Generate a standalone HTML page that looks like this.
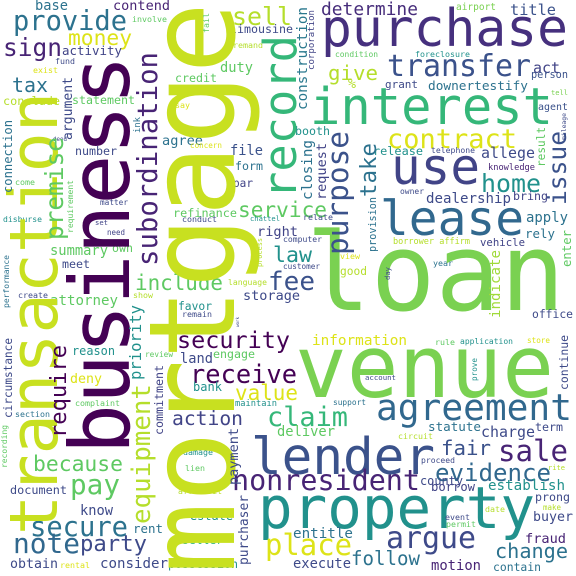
<!DOCTYPE html>
<html><head><meta charset="utf-8"><style>
html,body{margin:0;padding:0;background:#fff;}
svg{display:block;}
text{font-family:"DejaVu Sans Mono","Liberation Mono",monospace;}
</style></head><body>
<svg id="cloud" width="576" height="576" viewBox="0 0 576 576" xmlns="http://www.w3.org/2000/svg">
<rect width="576" height="576" fill="#ffffff"/>
</svg>
<script>
// horizontal words: [text, x, baseline, width, color]
const hWords = [
["purchase",321,46,247,"#46307e"],["determine",321,15,97,"#472d7b"],["title",510,15,46,"#3b528b"],
["airport",456,10,40,"#7ad151"],["transfer",387,76,144,"#3b528b"],["act",533,73,27,"#414487"],
["give",328,80,50,"#b5de2b"],["condition",335,57,43,"#5ec962"],["foreclosure",415,57,55,"#21918c"],
["person",531,78,37,"#3b528b"],["grant",385,88,33,"#3e4a89"],["downertestify",428,90,100,"#2c728e"],
["%",348,88,8,"#b5de2b"],["interest",310,124,243,"#35b779"],["tell",551,95,17,"#7ad151"],
["agent",538,110,30,"#3b528b"],["booth",295,135,35,"#21918c"],["contract",387,148,130,"#dde318"],
["release",373,155,50,"#21918c"],["telephone",431,153,44,"#3e4a89"],["use",391,184,89,"#414487"],
["allege",481,158,54,"#3e4a89"],["knowledge",488,170,47,"#482475"],["home",481,192,60,"#21918c"],
["owner",400,194,24,"#3e4a89"],["dealership",426,203,85,"#3e4a89"],["bring",513,200,35,"#414487"],
["lease",380,235,144,"#31688e"],["apply",526,222,42,"#2c728e"],["rely",525,238,30,"#2c728e"],
["computer",283,242,39,"#3e4a89"],["borrower affirm",393,244,77,"#b5de2b"],["vehicle",480,246,45,"#414487"],
["view",340,259,20,"#dde318"],["year",433,266,20,"#2c728e"],["good",340,275,27,"#b5de2b"],
["customer",283,269,37,"#3e4a89"],["loan",306,310,259,"#7ad151"],["base",35,10,33,"#2c728e"],
["contend",113,10,57,"#482475"],["provide",13,30,114,"#2c728e"],["involve",132,22,35,"#5ec962"],
["money",68,45,64,"#dde318"],["sign",3,56,59,"#482475"],["activity",62,55,60,"#414487"],
["remand",233,48,30,"#b5de2b"],["fund",55,64,20,"#3e4a89"],["exist",33,73,25,"#dde318"],
["duty",220,72,33,"#5ec962"],["tax",12,92,36,"#2c728e"],["credit",175,82,42,"#5ec962"],
["conclude",3,105,57,"#b5de2b"],["statement",72,104,63,"#5ec962"],["say",175,108,15,"#dde318"],
["deed",53,141,14,"#3e4a89"],["agree",162,145,41,"#2c728e"],["concern",190,148,32,"#dde318"],
["file",230,155,33,"#3b528b"],["number",75,155,42,"#3e4a89"],["form",235,170,28,"#2c728e"],
["come",15,185,20,"#5ec962"],["par",233,187,20,"#414487"],["service",238,217,89,"#5ec962"],
["refinance",173,217,64,"#5ec962"],["matter",100,205,28,"#3e4a89"],["disburse",3,222,39,"#21918c"],
["chattel",250,221,30,"#21918c"],["conduct",182,222,35,"#3e4a89"],["set",95,225,13,"#414487"],
["need",107,235,18,"#414487"],["relate",303,220,30,"#3e4a89"],["sell",232,25,60,"#b5de2b"],
["limousine",230,33,63,"#3e4a89"],["right",257,236,41,"#414487"],["summary",50,255,58,"#5ec962"],
["own",112,252,21,"#5ec962"],["law",273,262,39,"#21918c"],["meet",62,268,28,"#3e4a89"],
["include",135,290,88,"#5ec962"],["language",228,285,39,"#b5de2b"],["fee",268,290,47,"#3b528b"],
["storage",243,300,57,"#3e4a89"],["create",18,298,30,"#3e4a89"],["show",133,298,20,"#b5de2b"],
["attorney",50,305,68,"#5ec962"],["favor",178,310,34,"#21918c"],["remain",182,317,30,"#3e4a89"],
["office",532,318,41,"#3e4a89"],["information",312,345,95,"#dde318"],["security",177,348,113,"#440154"],
["land",180,363,33,"#3e4a89"],["engage",213,358,42,"#5ec962"],["review",145,357,28,"#5ec962"],
["rule",435,345,20,"#5ec962"],["application",460,344,53,"#21918c"],["store",527,343,23,"#dde318"],
["venue",295,397,259,"#7ad151"],["account",365,380,31,"#3e4a89"],["receive",190,383,107,"#440154"],
["reason",72,355,43,"#21918c"],["deny",70,383,32,"#dde318"],["bank",193,391,29,"#21918c"],
["value",235,400,63,"#dde318"],["complaint",75,406,45,"#5ec962"],["maintain",235,406,42,"#21918c"],
["section",15,417,35,"#2c728e"],["support",333,405,33,"#2c728e"],["action",172,425,71,"#414487"],
["claim",267,426,81,"#35b779"],["agreement",376,420,196,"#31688e"],["deliver",277,436,58,"#5ec962"],
["circuit",398,439,35,"#b5de2b"],["statute",428,431,53,"#2c728e"],["charge",481,437,54,"#3e4a89"],
["term",535,431,28,"#3e4a89"],["lender",251,474,184,"#3b528b"],["fair",441,455,50,"#3b528b"],
["sale",498,461,70,"#482475"],["proceed",421,463,34,"#3e4a89"],["because",33,471,90,"#5ec962"],
["damage",183,455,30,"#21918c"],["lien",185,471,20,"#5ec962"],["evidence",435,481,116,"#31688e"],
["rite",548,470,17,"#b5de2b"],["pay",70,494,50,"#5ec962"],["nonresident",232,490,188,"#482475"],
["county",420,485,43,"#3e4a89"],["establish",488,490,77,"#21918c"],["borrow",431,491,44,"#414487"],
["document",10,494,57,"#3e4a89"],["affidavit",178,494,44,"#b5de2b"],["prong",535,501,35,"#3e4a89"],
["property",258,528,277,"#21918c"],["know",80,515,33,"#3e4a89"],["date",485,512,20,"#b5de2b"],
["make",543,510,18,"#b5de2b"],["buyer",533,521,40,"#3e4a89"],["event",445,520,25,"#3e4a89"],
["permit",446,527,30,"#5ec962"],["estate",190,520,43,"#21918c"],["secure",30,536,98,"#2c728e"],
["rent",133,533,30,"#2c728e"],["entitle",293,538,60,"#2c728e"],["fraud",525,543,41,"#482475"],
["seller",182,544,41,"#35b779"],["place",265,555,87,"#dde318"],["argue",386,548,90,"#3e4a89"],
["change",495,558,73,"#2c728e"],["note",13,553,67,"#31688e"],["party",80,551,67,"#3e4a89"],
["follow",351,565,69,"#2c728e"],["execute",293,568,58,"#3e4a89"],["motion",431,570,50,"#482475"],
["contain",493,571,48,"#2c728e"],["obtain",10,568,48,"#3e4a89"],["rental",60,568,30,"#dde318"],
["consider",100,568,68,"#3e4a89"],["possession",168,568,70,"#21918c"]
];
// vertical words (read bottom to top): [text, baselineX, yTop, yBottom, color]
const vWords = [
["mortgage",234,2,574,"#c8e020"],["transaction",57,92,535,"#c8e020"],["business",129,55,454,"#440154"],
["record",296,35,199,"#35b779"],["subordination",157,52,266,"#482475"],["construction",307,7,110,"#2a788e"],
["corporation",314,10,70,"#414487"],["fail",209,13,33,"#5ec962"],["argument",72,77,140,"#3e4a89"],
["ink",140,117,133,"#2c728e"],["premise",63,137,240,"#5ec962"],["connection",12,120,193,"#2c728e"],
["requirement",73,180,233,"#5ec962"],["performance",9,255,308,"#2c728e"],["process",262,238,267,"#b5de2b"],
["purpose",348,131,255,"#3b528b"],["take",376,143,197,"#2c728e"],["closing",312,140,200,"#2c728e"],
["request",326,143,200,"#414487"],["result",545,127,167,"#5ec962"],["issue",566,131,205,"#3b528b"],
["mileage",566,113,140,"#3e4a89"],["provision",376,197,252,"#2c728e"],["enter",571,230,267,"#5ec962"],
["indicate",500,250,318,"#a0da39"],["day",390,267,280,"#3e4a89"],["work",239,317,327,"#3e4a89"],
["continue",568,335,390,"#3e4a89"],["prove",477,358,381,"#21918c"],["priority",141,305,380,"#21918c"],
["equipment",150,384,524,"#b5de2b"],["require",66,345,438,"#440154"],["commitment",163,365,435,"#414487"],
["circumstance",12,338,418,"#3e4a89"],["recording",7,425,468,"#5ec962"],["payment",238,428,485,"#3e4a89"],
["purchaser",248,495,565,"#3e4a89"]
];
const svg = document.getElementById('cloud');
const NS = 'http://www.w3.org/2000/svg';
hWords.forEach(w => {
  const t = document.createElementNS(NS, 'text');
  const fs = w[3] / (w[0].length * 0.6);
  t.setAttribute('x', w[1]);
  t.setAttribute('y', w[2]);
  t.setAttribute('font-size', fs.toFixed(2));
  t.setAttribute('fill', w[4]);
  t.setAttribute('textLength', w[3]);
  t.setAttribute('lengthAdjust', 'spacingAndGlyphs');
  
  
  t.textContent = w[0];
  svg.appendChild(t);
});
vWords.forEach(w => {
  const t = document.createElementNS(NS, 'text');
  const len = w[3] - w[2];
  const fs = len / (w[0].length * 0.6);
  t.setAttribute('x', w[1]);
  t.setAttribute('y', w[3]);
  t.setAttribute('transform', 'rotate(-90 ' + w[1] + ' ' + w[3] + ')');
  t.setAttribute('font-size', fs.toFixed(2));
  t.setAttribute('fill', w[4]);
  t.setAttribute('textLength', len);
  t.setAttribute('lengthAdjust', 'spacingAndGlyphs');
  
  
  t.textContent = w[0];
  svg.appendChild(t);
});
</script>
</body></html>
